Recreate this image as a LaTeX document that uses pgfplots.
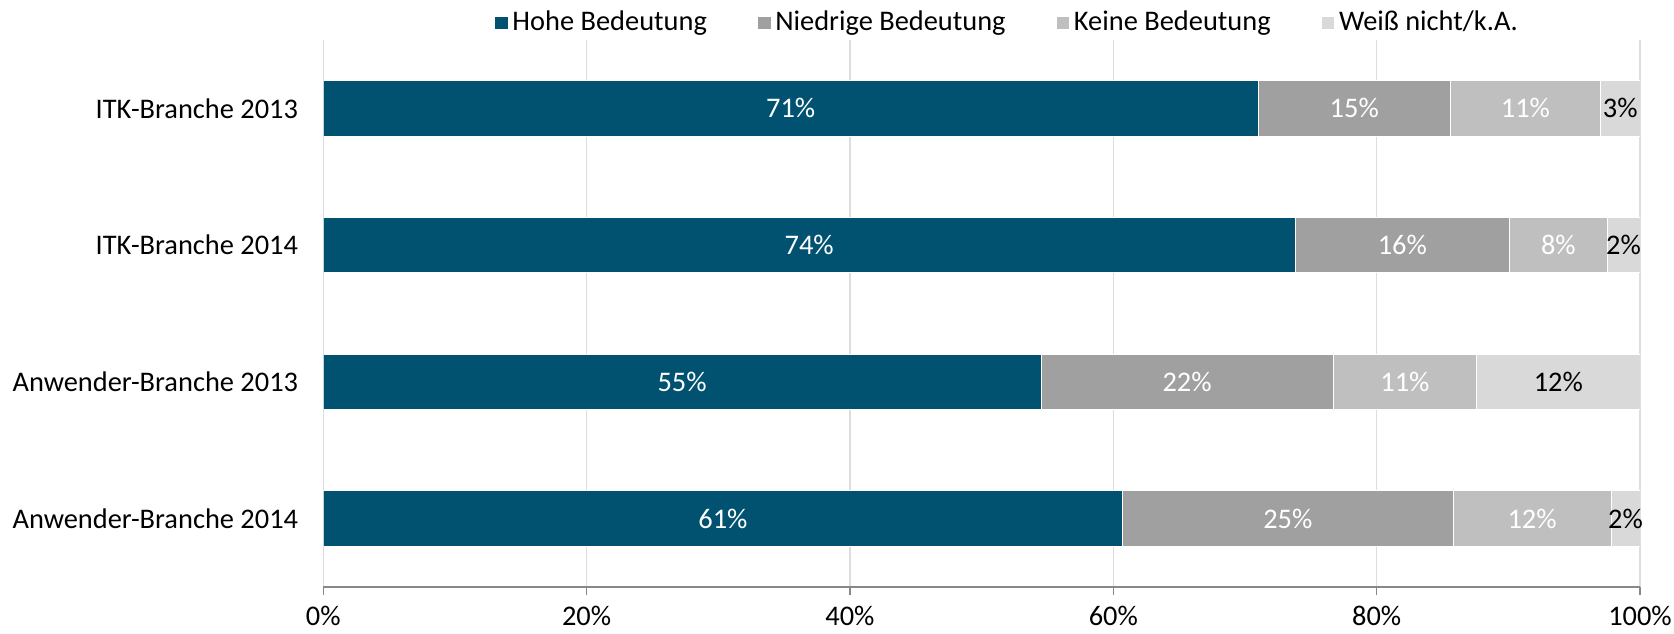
\documentclass[border=0pt]{standalone}
\usepackage{pgfplots}
\pgfplotsset{compat=1.18}
\usepackage{pgfplotstable}
\usepackage{fontspec}
\setmainfont{Carlito}

\definecolor{hoch}{HTML}{005270}
\definecolor{niedrig}{HTML}{A0A0A0}
\definecolor{keine}{HTML}{BFBFBF}
\definecolor{weiss}{HTML}{D9D9D9}
\definecolor{axisgray}{HTML}{888888}
\definecolor{gridgray}{HTML}{DDDDDD}

% rows: 1 = ITK 2013 ... 4 = Anwender 2014 (top to bottom)
\pgfplotstableread{
y hoch niedrig keine weiss lh ln lk lw
1 71.0 14.6 11.4 3.0  71 15 11 3
2 73.8 16.3 7.4  2.5  74 16 8  2
3 54.5 22.2 10.9 12.4 55 22 11 12
4 60.7 25.1 12.0 2.2  61 25 12 2
}\data

\begin{document}
\fontsize{14.2}{16}\selectfont
\begin{tikzpicture}
\useasboundingbox (0,0) rectangle (837pt,316.5pt);
\begin{axis}[
  at={(161.65pt,23pt)}, anchor=south west,
  width=658.35pt, height=273.5pt, scale only axis,
  xbar stacked, bar width=27.75pt,
  xmin=0, xmax=100, ymin=0.5, ymax=4.5, y dir=reverse,
  enlargelimits=false,
  xtick={0,20,40,60,80,100},
  xticklabels={0\%,20\%,40\%,60\%,80\%,100\%},
  ytick={1,2,3,4},
  yticklabels={ITK-Branche 2013,ITK-Branche 2014,Anwender-Branche 2013,Anwender-Branche 2014},
  axis x line*=bottom, axis y line*=left,
  x axis line style={color=axisgray, line width=0.8pt, -},
  y axis line style={draw=none},
  xmajorgrids, major grid style={gridgray, line width=0.6pt},
  xtick style={color=axisgray, line width=0.8pt},
  ytick style={draw=none},
  tick align=outside, major tick length=4pt,
  xticklabel style={font=\fontsize{14.2}{16}\selectfont, yshift=-0.5pt},
  yticklabel style={font=\fontsize{14.2}{16}\selectfont, xshift=-3.7pt},
  legend columns=4,
  legend style={draw=none, fill=none, font=\fontsize{14.2}{16}\selectfont,
    at={(0.52,1)}, anchor=center, yshift=8.5pt,
    /tikz/every even column/.append style={column sep=23pt},
    inner sep=0pt},
  legend image code/.code={\fill[#1] (0pt,-3.4pt) rectangle (6.8pt,3.4pt);},
  point meta=explicit symbolic,
  nodes near coords={\pgfplotspointmeta\%},
  every node near coord/.append style={anchor=center,
    font=\fontsize{14.2}{16}\selectfont},
]
\addplot[fill=hoch, draw=white, line width=0.4pt, nodes near coords style={white}]
  table[x=hoch, y=y, meta=lh] {\data};
\addplot[fill=niedrig, draw=white, line width=0.4pt, nodes near coords style={white}]
  table[x=niedrig, y=y, meta=ln] {\data};
\addplot[fill=keine, draw=white, line width=0.4pt, nodes near coords style={white}]
  table[x=keine, y=y, meta=lk] {\data};
\addplot[fill=weiss, draw=white, line width=0.4pt, nodes near coords style={black}]
  table[x=weiss, y=y, meta=lw] {\data};
\legend{Hohe Bedeutung,Niedrige Bedeutung,Keine Bedeutung,Weiß nicht/k.A.}
\end{axis}
\end{tikzpicture}
\end{document}
